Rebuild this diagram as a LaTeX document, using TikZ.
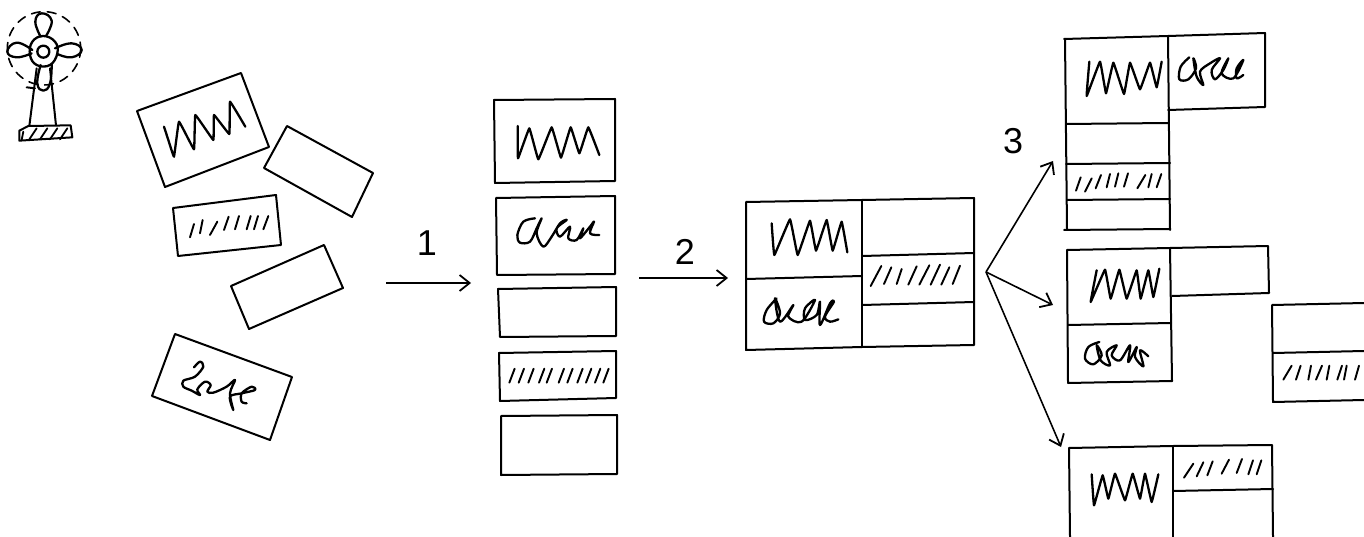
\documentclass[tikz,border=0pt]{standalone}
\usepackage{fontspec}
\setmainfont{Liberation Sans}
\usetikzlibrary{arrows.meta}
\tikzset{
  ink/.style={line width=2pt,line cap=round,line join=round,black},
  scrib/.style={line width=2.3pt,line cap=round,line join=round,black},
  hatchline/.style={line width=1.9pt,line cap=round,black},
  conn/.style={line width=1.6pt,-{Straight Barb[length=10pt,width=16pt,line width=1.8pt]}},
  numlabel/.style={font=\fontsize{36}{36}\selectfont,inner sep=0pt},
  zoomed/.style={x=0.33333pt,y=-0.33333pt}
}
\newcommand{\zz}[1]{\draw[scrib] plot[smooth,tension=0.55] coordinates {#1};}
\newcommand{\wz}[1]{\draw[scrib] plot[smooth,tension=0.12] coordinates {#1};}
\begin{document}
\begin{tikzpicture}[x=1pt,y=-1pt]
\useasboundingbox (0,0) rectangle (1364,537);
\clip (0,0) rectangle (1364,537);

% ---- fan
\begin{scope}[ink,zoomed]
  \draw[line width=1.6pt,dash pattern=on 9pt off 7pt] (132,145) circle [radius=110];
  \draw[line width=2.3pt] (130,155) circle [radius=18];
  \draw[line width=2.3pt] plot[smooth cycle,tension=0.7] coordinates {(130,108)(165,125)(172,160)(150,195)(110,195)(90,165)(97,125)};
  \draw[line width=2.3pt] plot[smooth,tension=0.8] coordinates {(97,150)(50,128)(22,155)(50,172)(95,160)};
  \draw[line width=2.3pt] plot[smooth,tension=0.8] coordinates {(165,145)(215,130)(245,150)(215,172)(172,162)};
  \draw[line width=2.3pt] plot[smooth,tension=0.8] coordinates {(122,110)(106,65)(125,40)(155,62)(138,108)};
  \draw[line width=2.3pt] plot[smooth,tension=0.8] coordinates {(122,195)(112,250)(130,272)(150,250)(155,192)};
  \draw (110,205) -- (88,378);
  \draw (150,205) -- (168,376);
  \draw (80,262) -- (105,265);
  \draw (58,392) -- (85,378) -- (212,376) -- (217,412) -- (58,422) -- cycle;
  \draw[line width=1.8pt] (65,420) -- (70,395);
  \foreach \a in {88,120,150,180}{\draw[line width=1.8pt] (\a,418) -- (\a+22,385);}
\end{scope}

% ---- scattered boxes
\draw[ink] (137,111) -- (241,73) -- (269,147) -- (165,187) -- cycle;
\draw[ink] (287,126) -- (373,173) -- (352,217) -- (264,168) -- cycle;
\draw[ink] (173,208) -- (276,195) -- (281,245) -- (178,256) -- cycle;
\draw[ink] (231,286) -- (324,245) -- (343,288) -- (249,329) -- cycle;
\draw[ink] (175,334) -- (292,377) -- (270,440) -- (152,396) -- cycle;

\begin{scope}[zoomed]
  \wz{(492,380)(505,420)(522,470)(537,365)(582,448)(586,345)(640,420)(642,345)(688,402)(690,305)(736,380)}
  \foreach \a/\b/\s in {570/712/12,600/700/8,630/705/22,672/690/14,705/688/12,740/688/12,762/688/12,790/688/15}
    {\draw[hatchline] (\a,\b) -- ++(\s,-40);}
\end{scope}
\begin{scope}[shift={(120pt,-230pt)},zoomed]
  \zz{(222,412)(240,395)(250,410)(225,440)(190,452)(190,470)(215,482)(240,495)(232,478)(255,455)(272,465)(262,485)(280,488)(320,470)(345,450)(330,490)(340,540)(330,500)(365,490)(405,480)(395,470)(365,490)(365,515)(380,520)}
\end{scope}

% ---- column
\draw[ink] (494,100) -- (615,99) -- (615,181) -- (495,183) -- cycle;
\draw[ink] (496,198) -- (615,196) -- (615,274) -- (497,275) -- cycle;
\draw[ink] (498,289) -- (616,287) -- (616,336) -- (500,337) -- cycle;
\draw[ink] (499,353) -- (616,351) -- (616,398) -- (500,401) -- cycle;
\draw[ink] (501,416) -- (617,415) -- (617,474) -- (501,475) -- cycle;
\begin{scope}[shift={(480pt,-90pt)},zoomed]
  \wz{(113,108)(114,205)(148,115)(175,208)(215,112)(243,203)(272,112)(298,190)(325,112)(358,195)}
  \zz{(165,385)(130,395)(112,435)(120,458)(150,455)(170,415)(185,385)(170,430)(190,470)(215,440)(240,400)(260,390)(230,415)(240,440)(270,410)(265,445)(290,450)(310,415)(300,445)(330,410)(342,395)(330,430)(358,435)}
  \foreach \a in {88,116,145,177,200,236,262,292,318,345,370}
    {\draw[hatchline] (\a,878) -- ++(16,-42);}
\end{scope}

% ---- middle block
\draw[ink] (746,202) -- (862,200) -- (974,198) -- (974,345) -- (862,347) -- (746,350) -- cycle;
\draw[ink] (862,200) -- (862,347);
\draw[ink] (746,279) -- (862,276);
\draw[ink] (862,256) -- (974,253);
\draw[ink] (862,305) -- (974,302);
\begin{scope}[shift={(730pt,-180pt)},zoomed]
  \wz{(125,130)(133,225)(180,118)(203,225)(240,122)(258,212)(290,120)(308,212)(335,125)(352,217)}
  \zz{(140,355)(110,390)(102,425)(130,430)(150,400)(135,355)(150,425)(190,375)(175,410)(215,425)(255,360)(225,385)(225,420)(260,405)(270,365)(270,435)(300,370)(312,365)(285,410)(300,425)(325,418)}
  \foreach \a/\b/\l/\s in {422/318/60/32,462/312/50/22,500/312/45/15,535/314/55/25,568/314/58/30,602/314/60/28,634/314/52/24,668/312/55/22}
    {\draw[hatchline] (\a,\b) -- ++(\s,-\l);}
\end{scope}

% ---- top-right block
\draw[ink] (1064,39) -- (1168,36) -- (1265,33) -- (1265,107) -- (1168,110);
\draw[ink] (1065,39) -- (1067,230);
\draw[ink] (1168,36) -- (1170,230);
\draw[ink] (1066,124) -- (1168,123);
\draw[ink] (1066,164) -- (1170,163);
\draw[ink] (1067,200) -- (1170,199);
\draw[ink] (1064,230) -- (1170,229);
\begin{scope}[shift={(980pt,0pt)},zoomed]
  \wz{(328,185)(320,288)(360,185)(378,280)(400,188)(432,282)(450,188)(480,268)(510,188)(530,262)(545,185)}
  \zz{(628,172)(602,200)(598,238)(625,238)(648,205)(640,175)(650,230)(670,255)(660,215)(690,190)(720,175)(695,210)(705,238)(730,210)(745,175)(725,220)(760,235)(790,180)(770,205)(770,235)(790,225)}
  \foreach \a/\b/\s in {288/572/14,315/575/20,347/565/16,380/562/10,405/560/10,432/560/12,472/565/24,505/562/10,530/562/14}
    {\draw[hatchline] (\a,\b) -- ++(\s,-40);}
\end{scope}

% ---- middle-right block
\draw[ink] (1067,250) -- (1170,248) -- (1268,246) -- (1269,293) -- (1172,296);
\draw[ink] (1067,250) -- (1068,383);
\draw[ink] (1170,248) -- (1172,381);
\draw[ink] (1068,325) -- (1171,323);
\draw[ink] (1068,383) -- (1172,381);
\begin{scope}[shift={(980pt,-267pt)},zoomed]
  \wz{(350,10)(332,105)(375,8)(392,95)(418,8)(440,95)(470,10)(482,95)(505,10)(520,90)(538,5)}
  \zz{(358,225)(325,240)(315,275)(340,292)(365,265)(350,235)(362,280)(390,295)(380,255)(410,235)(395,265)(420,280)(450,235)(445,285)(470,240)(465,270)(490,298)(480,250)(505,268)}
\end{scope}

% ---- right piece
\draw[ink] (1364,303) -- (1272,305) -- (1273,402) -- (1364,400);
\draw[ink] (1273,353) -- (1364,351);
\begin{scope}[shift={(980pt,-267pt)},zoomed]
  \foreach \a/\s in {910/25,948/14,985/8,1008/18,1040/8,1072/14,1092/8,1125/12}
    {\draw[hatchline] (\a,338) -- ++(\s,-42);}
\end{scope}

% ---- bottom block
\draw[ink] (1069,448) -- (1173,446) -- (1272,445) -- (1273,537);
\draw[ink] (1069,448) -- (1070,537);
\draw[ink] (1173,446) -- (1173,537);
\draw[ink] (1173,491) -- (1273,489);
\begin{scope}[shift={(980pt,-267pt)},zoomed]
  \wz{(335,622)(342,715)(368,625)(385,695)(405,620)(435,700)(458,620)(480,695)(495,620)(515,705)(535,622)}
  \foreach \a/\b/\s in {612/632/28,650/628/20,682/625/16,725/620/22,770/618/16,805/622/14,830/622/14}
    {\draw[hatchline] (\a,\b) -- ++(\s,-42);}
\end{scope}

% ---- connectors and labels
\coordinate (a1s) at (386,283); \coordinate (a1e) at (471,283);
\coordinate (a2s) at (639,278); \coordinate (a2e) at (728,278);
\coordinate (hub) at (986,272);
\coordinate (t1) at (1053,161); \coordinate (t2) at (1053,305); \coordinate (t3) at (1061,447);
\draw[conn] (a1s) -- (a1e);
\draw[conn] (a2s) -- (a2e);
\draw[conn] (hub) -- (t1);
\draw[conn] (hub) -- (t2);
\draw[conn] (hub) -- (t3);
\node[numlabel] (n1) at (427,243) {1};
\node[numlabel] (n2) at (685,252) {2};
\node[numlabel] (n3) at (1013,141) {3};
\end{tikzpicture}
\end{document}
